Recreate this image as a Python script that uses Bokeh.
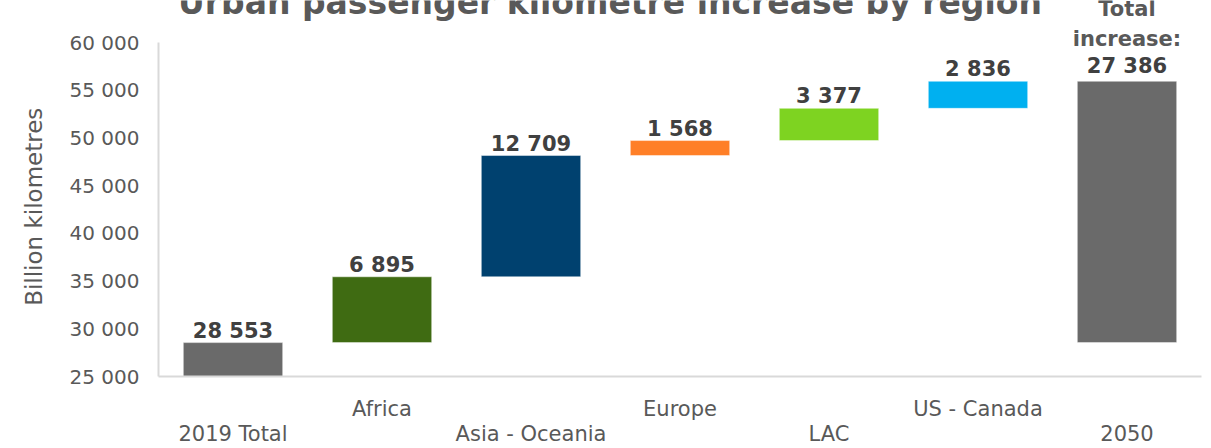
from bokeh.plotting import figure
from bokeh.models import Range1d, FixedTicker, ColumnDataSource, LabelSet, LinearAxis
from bokeh.core.properties import value
from bokeh.embed import file_html
from bokeh.resources import INLINE

# ---- data ----
categories = ["2019 Total", "Africa", "Asia - Oceania", "Europe", "LAC", "US - Canada", "2050"]
start_value = 28553
region_increases = [6895, 12709, 1568, 3377, 2836]
total_increase = 27386
bar_colors = ["#6a6a6a", "#3f6b12", "#00416f", "#ff7f27", "#7ed321", "#00b0f0", "#6a6a6a"]
y_ticks = [25000, 30000, 35000, 40000, 45000, 50000, 55000, 60000]
title_text = "Urban passenger kilometre increase by region"
y_label = "Billion kilometres"
total_lines = ["Total", "increase:"]

def fmt(v):
    return f"{v:,}".replace(",", " ")

# build waterfall geometry from the values
bottoms, tops, texts = [0], [start_value], [fmt(start_value)]
running = start_value
for inc in region_increases:
    bottoms.append(running)
    running += inc
    tops.append(running)
    texts.append(fmt(inc))
bottoms.append(start_value)
tops.append(start_value + total_increase)
texts.append(fmt(total_increase))
xs = list(range(len(categories)))

# ---- layout ----
W, H = 1211, 448
FRAME_H = 376            # frame spans canvas top down to the 25 000 line
TOP_TICK_PX = 42         # pixel row of the highest tick
y0, y1 = y_ticks[0], y_ticks[-1]
upp = (y1 - y0) / (FRAME_H - TOP_TICK_PX)     # data units per pixel
y_top = y0 + upp * FRAME_H

FONT = value("DejaVu Sans")
GREY = "#595959"
DARK = "#404040"

p = figure(width=W, height=H, x_range=Range1d(-0.5, len(categories) - 0.5),
           y_range=Range1d(y0, y_top),
           output_backend="svg", toolbar_location=None,
           min_border_left=158, min_border_right=10, min_border_top=0,
           min_border_bottom=H - FRAME_H)
p.outline_line_color = None
p.xgrid.visible = False
p.ygrid.visible = False

src = ColumnDataSource(dict(x=xs, bottom=bottoms, top=tops, color=bar_colors))
p.vbar(x="x", bottom="bottom", top="top", width=0.667, fill_color="color",
       line_color="white", line_alpha=0.45, line_width=1, source=src)

# y axis (label padded so it centres on the tick span, not on the taller frame)
ya = p.yaxis[0]
ya.ticker = FixedTicker(ticks=y_ticks)
ya.bounds = (y0, y1)
ya.major_label_overrides = {t: fmt(t) for t in y_ticks}
ya.major_label_text_font = "DejaVu Sans"
ya.major_label_text_font_size = "20px"
ya.major_label_text_color = GREY
ya.major_tick_line_color = None
ya.minor_tick_line_color = None
ya.major_tick_out = 0
ya.major_tick_in = 0
ya.major_label_standoff = 19
ya.axis_line_color = "#d9d9d9"
ya.axis_line_width = 2
ya.axis_label = y_label + "\u00a0" * 5
ya.axis_label_text_font = "DejaVu Sans"
ya.axis_label_text_font_size = "23px"
ya.axis_label_text_font_style = "normal"
ya.axis_label_text_color = GREY
ya.axis_label_standoff = 20

# x axes: staggered category labels (odd row first, even row below)
def style_x(ax, ticks, standoff, line):
    ax.ticker = FixedTicker(ticks=ticks)
    ax.major_label_overrides = {t: categories[t] for t in ticks}
    ax.major_label_text_font = "DejaVu Sans"
    ax.major_label_text_font_size = "21px"
    ax.major_label_text_color = GREY
    ax.major_tick_line_color = None
    ax.minor_tick_line_color = None
    ax.major_tick_out = 0
    ax.major_tick_in = 0
    ax.major_label_standoff = standoff
    ax.axis_line_color = "#d9d9d9" if line else None
    ax.axis_line_width = 2

style_x(p.xaxis[0], xs[1::2], 20, True)
ax2 = LinearAxis()
style_x(ax2, xs[0::2], -2, False)
p.add_layout(ax2, "below")

# value labels
vals = ColumnDataSource(dict(x=xs[:-1], y=[t + 5 * upp for t in tops[:-1]], text=texts[:-1]))
p.add_layout(LabelSet(x="x", y="y", text="text", source=vals,
                      text_align="center", text_baseline="alphabetic",
                      text_font=FONT, text_font_size="21px", text_font_style="bold",
                      text_color=DARK))
last = ColumnDataSource(dict(x=[xs[-1]] * 3,
                             y=[tops[-1] + off * upp for off in (65, 35, 8)],
                             text=total_lines + [texts[-1]],
                             col=[GREY, GREY, DARK]))
p.add_layout(LabelSet(x="x", y="y", text="text", source=last,
                      text_align="center", text_baseline="alphabetic",
                      text_font=FONT, text_font_size="21px", text_font_style="bold",
                      text_color="col"))

# title (its top is cut off by the page edge, as in the reference)
ttl = ColumnDataSource(dict(x=[2.53], y=[y_top - 13 * upp], text=[title_text]))
p.add_layout(LabelSet(x="x", y="y", text="text", source=ttl,
                      text_align="center", text_baseline="alphabetic",
                      text_font=FONT, text_font_size="33px", text_font_style="bold",
                      text_color=GREY))

open("out.html", "w").write(file_html(p, INLINE))
